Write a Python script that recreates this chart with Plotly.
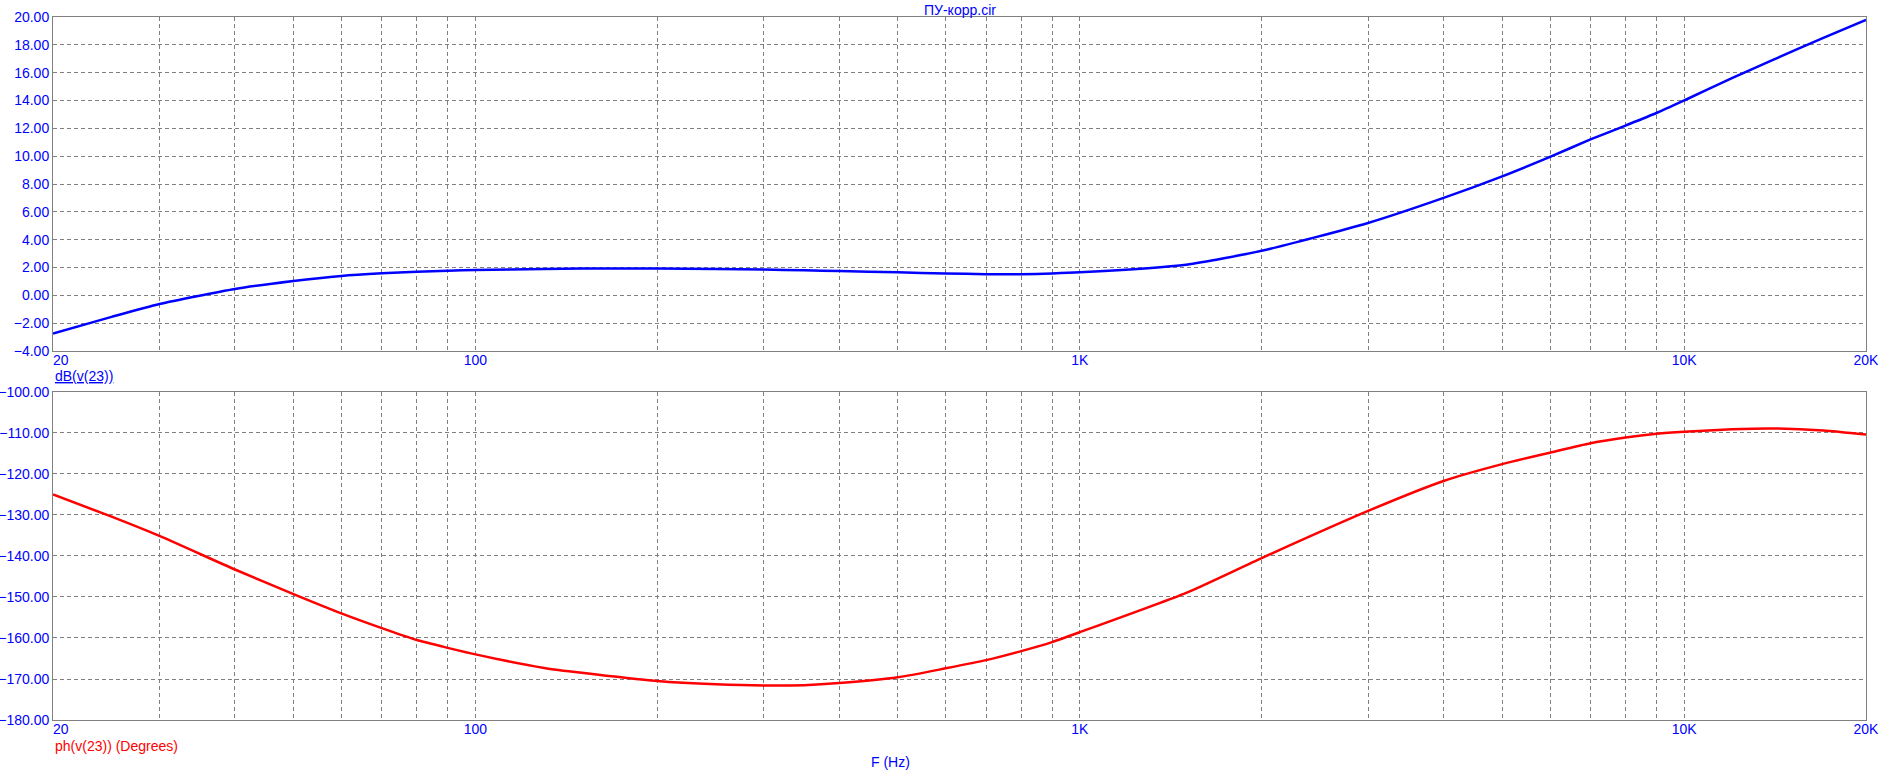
"""Bode plot: ПУ-корр.cir, dB(v(23)) and ph(v(23))."""

import math

import plotly.graph_objects as go

# frequency points (Hz)
freq = [20, 25, 30, 40, 50, 60, 70, 80, 90, 100, 130, 150, 200, 250, 300, 350, 400, 500,
        600, 700, 800, 900, 1000, 1500, 2000, 3000, 4000, 5000, 6000, 7000, 8000, 9000,
        10000, 12000, 14000, 17000, 20000]

gain_db = [-2.75, -1.55, -0.62, 0.46, 1.03, 1.39, 1.58, 1.70, 1.77, 1.82, 1.89, 1.92, 1.92,
           1.89, 1.85, 1.80, 1.75, 1.65, 1.57, 1.52, 1.52, 1.57, 1.65, 2.20, 3.20, 5.20,
           7.00, 8.55, 9.95, 11.20, 12.20, 13.10, 14.00, 15.60, 16.90, 18.50, 19.80]

phase_deg = [-125.0, -130.4, -135.1, -143.3, -149.3, -154.0, -157.6, -160.5, -162.4, -164.0,
             -167.3, -168.5, -170.5, -171.3, -171.6, -171.5, -171.0, -169.6, -167.4, -165.4,
             -163.2, -161.0, -158.6, -149.0, -140.5, -129.0, -121.7, -117.6, -114.8, -112.5,
             -111.1, -110.2, -109.7, -109.1, -108.9, -109.4, -110.4]

x_label_vals = [20, 100, 1000, 10000, 20000]
x_label_text = ["\u00a0\u00a0\u00a0\u00a020", "100", "1K", "10K", "20K"]

FONT = "Arial, Liberation Sans, sans-serif"
BLUE = "#0000ff"
RED = "#ff0000"
GRID = "#808080"

# gridlines at every 1-2-3...9 step of each decade
grid_vals = []
for dec in (10, 100, 1000):
    for m in range(1, 10):
        v = m * dec
        if 20 <= v <= 20000:
            grid_vals.append(v)
grid_vals += [10000, 20000]
grid_text = [x_label_text[x_label_vals.index(v)] if v in x_label_vals else "" for v in grid_vals]

fig = go.Figure()
fig.add_trace(go.Scatter(x=freq, y=gain_db, mode="lines", line=dict(color=BLUE, width=2.5, shape="spline", smoothing=0.6),
                         xaxis="x", yaxis="y"))
fig.add_trace(go.Scatter(x=freq, y=phase_deg, mode="lines", line=dict(color=RED, width=2.5, shape="spline", smoothing=0.6),
                         xaxis="x2", yaxis="y2"))

xcommon = dict(type="log", range=[math.log10(20), math.log10(20000)], tickmode="array",
               tickvals=grid_vals, ticktext=grid_text, showgrid=True, gridcolor=GRID, griddash="4px,3px",
               gridwidth=1, showline=True, linecolor=GRID, linewidth=1, mirror=True, ticks="",
               tickfont=dict(family=FONT, size=14, color=BLUE), zeroline=False, automargin=False,
               ticklabelstandoff=-4)
ycommon = dict(showgrid=True, gridcolor=GRID, griddash="4px,3px", gridwidth=1, showline=True,
               linecolor=GRID, linewidth=1, mirror=True, ticks="", tickformat=".2f",
               tickfont=dict(family=FONT, size=14, color=BLUE), zeroline=False, automargin=False)

fig.update_layout(
    width=1891, height=774,
    margin=dict(l=53, r=25, t=17, b=54),
    paper_bgcolor="white", plot_bgcolor="white",
    showlegend=False,
    font=dict(family=FONT, size=14, color=BLUE),
    xaxis=dict(xcommon, domain=[0, 1], anchor="y"),
    yaxis=dict(ycommon, domain=[0.5249, 1], range=[-4, 20], dtick=2, tick0=0, anchor="x"),
    xaxis2=dict(xcommon, domain=[0, 1], anchor="y2"),
    yaxis2=dict(ycommon, domain=[0, 0.4666], range=[-180, -100], dtick=10, tick0=0, anchor="x2"),
    annotations=[
        dict(text="ПУ-корр.cir", xref="paper", yref="paper", x=0.5, y=1.0, yshift=7,
             xanchor="center", yanchor="middle", showarrow=False, font=dict(family=FONT, size=14, color=BLUE)),
        dict(text="<u>dB(v(23))</u>", xref="paper", yref="paper", x=0, y=0.4893,
             xanchor="left", yanchor="middle", showarrow=False, font=dict(family=FONT, size=14, color=BLUE)),
        dict(text="ph(v(23)) (Degrees)", xref="paper", yref="paper", x=0, y=-0.037,
             xanchor="left", yanchor="middle", showarrow=False, font=dict(family=FONT, size=14, color=RED)),
        dict(text="F (Hz)", xref="paper", yref="paper", x=0.4617, y=-0.0597,
             xanchor="center", yanchor="middle", showarrow=False, font=dict(family=FONT, size=14, color=BLUE)),
    ],
)

# drop the browser's default 8px body margin so the figure sits at the page corner
fig.write_html("out.html", config={"displayModeBar": False},
               post_script="document.body.style.margin = '0';")
